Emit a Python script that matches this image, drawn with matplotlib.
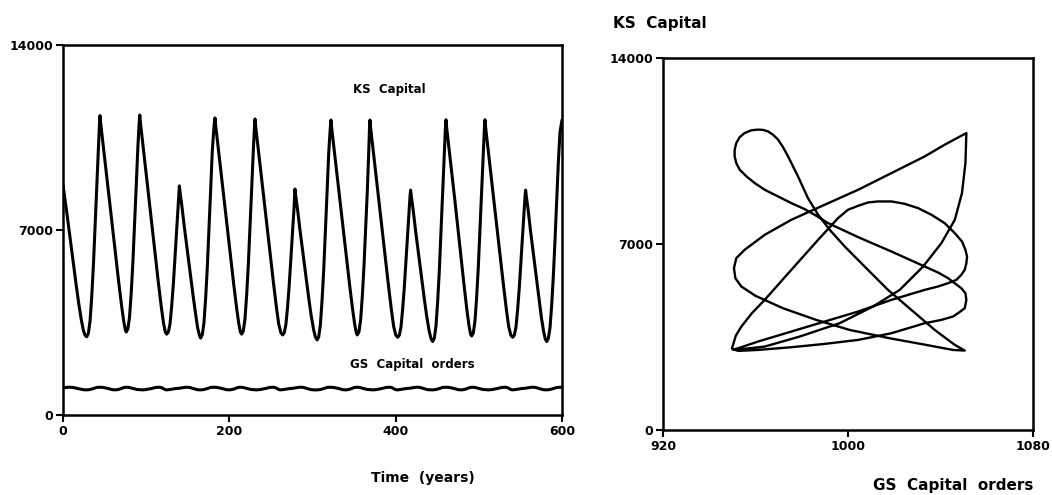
import matplotlib
matplotlib.use("Agg")
import matplotlib.pyplot as plt

# KS capital stock over time (years, value)
years = [
    0, 2, 5, 8.5, 12, 15.5, 19, 22, 24.5, 26.5, 28.5,
    30.5, 32.5, 34.5, 36.5, 38.5, 40.5, 42.5, 43.8, 44.5,
    45.3, 47.5, 51, 55, 59, 63, 67, 70.5, 73, 75, 76,
    78, 80, 82, 84, 86, 88, 90, 91.5, 92.3,
    93.1, 95.3, 98.8, 102.8, 106.8, 110.8, 114.8, 118.3, 120.8, 123, 124.7,
    126.7, 128.7, 130.7, 132.7, 134.7, 136.7, 138.5, 139.4, 139.9,
    140.7, 142.9, 145.9, 149.4, 152.9, 156.4, 159.4, 161.9, 163.9, 165.5,
    167.5, 169.5, 171.5, 173.5, 175.5, 177.5, 179.5, 181.5, 182.8,
    183.6, 185.8, 189.3, 193.3, 197.3, 201.3, 205.3, 208.8, 211.3, 213.3, 214.8,
    216.8, 218.8, 220.8, 222.8, 224.8, 226.8, 228.8, 230.2, 230.9,
    231.7, 233.9, 237.4, 241.4, 245.4, 249.4, 253.4, 256.9, 259.4, 262, 264.1,
    266, 268, 270, 272, 274, 276, 277.8, 278.5, 278.9,
    279.7, 281.9, 284.9, 288.4, 291.9, 295.4, 298.4, 301.4, 303.5, 305.5,
    307.5, 309.5, 311.5, 313.5, 315.5, 317.5, 319.5, 321.3, 322.2,
    323, 325.2, 328.7, 332.7, 336.7, 340.7, 344.7, 348.2, 350.7, 352.7, 353.9,
    355.9, 357.9, 359.9, 361.9, 363.9, 365.9, 367.6, 368.5, 369.1,
    369.9, 372.1, 375.6, 379.6, 383.6, 387.6, 391.6, 395.1, 397.6, 400.2, 402.4,
    404.4, 406.4, 408.4, 410.4, 412.4, 414.4, 416.2, 417.3, 418,
    418.8, 421, 424, 427.5, 431, 434.5, 437.5, 440.3, 442.5, 444.5,
    446.5, 448.5, 450.5, 452.5, 454.5, 456.5, 458.5, 459.8, 460.5,
    461.3, 463.5, 467, 471, 474.8, 478.6, 482.4, 485.7, 488.1, 490, 491.4,
    493.4, 495.4, 497.4, 499.4, 501.4, 503.4, 505.4, 506.7, 507.4,
    508.2, 510.4, 513.9, 517.9, 521.9, 525.9, 529.9, 533.4, 535.9, 538.5, 540.7,
    542.7, 544.7, 546.7, 548.7, 550.7, 552.7, 554.5, 555.6, 556.3,
    557.1, 559.3, 562.2, 565.6, 568.9, 572.3, 575.2, 577.8, 579.8, 581.6,
    583.6, 585.6, 587.6, 589.6, 591.6, 593.6, 595.6, 597.6, 600,
]
ks_capital = [
    8700, 8250, 7550, 6700, 5850, 5000, 4200, 3600, 3200, 3020, 2960,
    3090, 3550, 4470, 5640, 7060, 8570, 10080, 11000, 11330,
    11040, 10430, 9450, 8340, 7240, 6130, 5020, 4120, 3550, 3220, 3140,
    3260, 3710, 4620, 5770, 7160, 8640, 10120, 11020, 11350,
    11060, 10440, 9440, 8330, 7200, 6090, 4970, 4060, 3490, 3140, 3060,
    3140, 3450, 4130, 4970, 5980, 6990, 7940, 8450, 8670,
    8440, 7920, 7110, 6250, 5390, 4520, 3830, 3300, 3030, 2910,
    3040, 3500, 4410, 5580, 6990, 8490, 9990, 10900, 11240,
    10950, 10340, 9360, 8260, 7150, 6050, 4940, 4040, 3470, 3140, 3060,
    3180, 3630, 4530, 5670, 7050, 8510, 9980, 10880, 11200,
    10910, 10300, 9320, 8220, 7120, 6010, 4910, 4010, 3440, 3110, 3030,
    3110, 3420, 4080, 4910, 5900, 6890, 7830, 8330, 8550,
    8320, 7810, 7010, 6150, 5300, 4440, 3760, 3220, 2950, 2840,
    2960, 3420, 4340, 5500, 6920, 8410, 9910, 10830, 11160,
    10880, 10270, 9290, 8190, 7100, 6000, 4900, 4010, 3440, 3110, 3030,
    3150, 3600, 4490, 5630, 7010, 8470, 9930, 10830, 11160,
    10870, 10260, 9270, 8160, 7050, 5940, 4830, 3930, 3350, 3020, 2940,
    3020, 3330, 4000, 4830, 5840, 6840, 7790, 8290, 8510,
    8280, 7770, 6960, 6100, 5240, 4380, 3700, 3180, 2890, 2780,
    2910, 3370, 4290, 5460, 6890, 8400, 9910, 10840, 11170,
    10880, 10270, 9290, 8180, 7080, 5980, 4870, 3970, 3400, 3070, 2990,
    3110, 3560, 4460, 5610, 7000, 8470, 9940, 10840, 11170,
    10880, 10260, 9280, 8170, 7060, 5950, 4840, 3930, 3350, 3020, 2940,
    3020, 3330, 4000, 4830, 5840, 6840, 7790, 8290, 8510,
    8280, 7770, 6960, 6100, 5240, 4380, 3700, 3180, 2890, 2780,
    2900, 3300, 4150, 5250, 6600, 8050, 9550, 10700, 11160,
]

# GS capital orders over time (small ripple around 1000)
gs_years = [
    0, 4, 8, 12, 18, 24.5, 28.5, 32, 36, 40.5, 44.5, 48.5, 54, 59.5, 63.5,
    67, 70, 73, 76, 79.5, 84, 89, 92.3, 94.2, 96, 100, 106, 111.5, 116,
    118.5, 120.5, 122.7, 124.7, 128, 132, 136, 139.9, 144, 148, 152, 157,
    161.5, 165.5,
    169, 173, 177.5, 181.5, 185.5, 191, 196.5, 200.5, 204, 207, 210, 213,
    216.5, 221, 226, 229.3, 231.2, 233, 237, 243, 248.5, 253, 255.5, 257.5,
    259.7, 261.7, 265, 269, 273, 276.9, 281, 285, 289, 294, 298.5, 302.5,
    305.5, 309, 313, 317.5, 321.5, 325.5, 331, 336.5, 340.5, 344, 347, 350,
    353, 356.5, 361, 366, 369.3, 371.2, 373, 377, 383, 388.5, 393, 395.5,
    397.5, 399.7, 401.7, 405, 409, 413, 416.9, 421, 425, 429, 434, 438.5,
    442.5,
    444.5, 448, 452, 456.5, 460.5, 464.5, 470, 475.5, 479.5, 483, 486, 489,
    492, 495.5, 500, 505, 508.3, 510.2, 512, 516, 522, 527.5, 532, 534.5,
    536.5, 538.7, 540.7, 544, 548, 552, 555.9, 560, 564, 568, 573, 577.5,
    581.5, 585, 589, 593.5, 597.5, 600,
]
gs_orders = [
    1020, 1045, 1052, 1044, 1000, 957, 951, 962, 995, 1044, 1051, 1042, 1005, 958, 951,
    970, 1000, 1038, 1051, 1042, 1005, 966, 960, 955, 951, 963, 1000, 1042, 1052,
    1035, 1000, 963, 951, 962, 985, 1004, 1012, 1035, 1052, 1044, 1000,
    958, 951,
    962, 995, 1044, 1051, 1042, 1005, 958, 951, 970, 1000, 1038, 1051,
    1042, 1005, 966, 960, 955, 951, 963, 1000, 1042, 1052, 1035, 1000,
    963, 951, 962, 985, 1004, 1012, 1035, 1052, 1044, 1000, 958, 951,
    951, 962, 995, 1044, 1051, 1042, 1005, 958, 951, 970, 1000, 1038,
    1051, 1042, 1005, 966, 960, 955, 951, 963, 1000, 1042, 1052, 1035,
    1000, 963, 951, 962, 985, 1004, 1012, 1035, 1052, 1044, 1000, 958,
    951,
    951, 962, 995, 1044, 1051, 1042, 1005, 958, 951, 970, 1000, 1038,
    1051, 1042, 1005, 966, 960, 955, 951, 963, 1000, 1042, 1052, 1035,
    1000, 963, 951, 962, 985, 1004, 1012, 1035, 1052, 1044, 1000, 958,
    951, 962, 995, 1038, 1050, 1048,
]

# phase portrait: GS capital orders (x) against KS capital (y)
gs_orbit = [
    951.0, 964.0, 979.1, 996.4, 1010.8, 1022.4, 1032.5, 1040.4, 1046.2, 1049.3, 1050.8, 1051.2,
    1041.8, 1033.2, 1018.8, 1004.4, 989.9, 975.5, 964.0, 955.3,
    951.7, 950.7, 951.3, 953.9, 960.0,
    971.9, 986.3, 1000.7, 1018.0, 1033.9, 1045.4, 1050.5,
    1046.2, 1037.5, 1027.4, 1017.3, 1007.2, 998.6, 992.1, 987.1, 982.7, 978.4, 974.1,
    971.9, 969.8, 967.6, 965.4, 963.3, 961.1, 958.2,
    955.3, 953.2, 951.7, 951.0, 951.0, 951.7, 953.2, 956.1, 959.7, 964.0, 969.8,
    975.5, 981.3, 985.6, 991.4, 1004.4, 1018.8, 1033.2, 1038.9, 1043.3, 1049.0,
    1050.8, 1051.2, 1050.5, 1047.6, 1045.4, 1040.4, 1033.2, 1018.8, 1004.4, 989.9,
    975.5, 961.1, 952.5, 949.8,
    950.3, 951.5, 953.9, 958.5, 964.0, 975.5, 987.1, 995.7, 1000.0, 1004.4, 1008.7,
    1013.0, 1018.8, 1024.5, 1030.3, 1036.1, 1041.8, 1046.2, 1049.3, 1050.8, 1051.5,
    1051.2, 1050.5, 1049.0, 1046.9, 1043.3, 1038.9, 1033.2, 1018.8, 1004.4, 989.9,
    975.5, 961.1, 952.5, 950.3, 951.0,
]
ks_orbit = [
    3014, 3140, 3517, 4019, 4647, 5274, 6153, 7032, 7911, 8916, 10046, 11176,
    10736, 10297, 9669, 9041, 8476, 7911, 7346, 6781,
    6467, 6091, 5714, 5400, 5050,
    4583, 4143, 3767, 3453, 3202, 3013, 2990,
    3203, 3768, 4521, 5274, 6153, 6907, 7535, 8100, 8727, 9544, 10297,
    10648, 10925, 11113, 11238, 11295, 11305, 11280,
    11176, 11025, 10799, 10548, 10297, 10046, 9795, 9544, 9292, 9041, 8790,
    8539, 8313, 8100, 7786, 7258, 6718, 6153, 5930, 5714, 5337,
    5149, 4898, 4584, 4396, 4270, 4144, 4019, 3642, 3391, 3240,
    3115, 3014, 2977, 3060,
    3203, 3550, 3893, 4400, 4898, 6028, 7158, 7974, 8288, 8438, 8564,
    8602, 8602, 8514, 8351, 8100, 7786, 7409, 7095, 6781, 6530,
    6279, 6028, 5840, 5651, 5526, 5400, 5274, 4898, 4458, 4082,
    3705, 3329, 3077, 3030, 3014,
]

FONT = "DejaVu Sans"

fig = plt.figure(figsize=(10.52, 4.95), dpi=100)

ax1 = fig.add_axes([0.0599, 0.1616, 0.4743, 0.7475])
ax1.plot(years, ks_capital, color="black", lw=2.2,
         solid_joinstyle="round", solid_capstyle="round")
ax1.plot(gs_years, gs_orders, color="black", lw=2.2,
         solid_joinstyle="round", solid_capstyle="round")
ax1.set_xlim(0, 600)
ax1.set_ylim(0, 14000)
ax1.set_xticks([0, 200, 400, 600])
ax1.set_yticks([0, 7000, 14000])
ax1.text(392, 12300, "KS  Capital", ha="center", va="center",
         fontsize=8.5, fontweight="bold", family=FONT)
ax1.text(420, 1900, "GS  Capital  orders", ha="center", va="center",
         fontsize=8.5, fontweight="bold", family=FONT)

ax2 = fig.add_axes([0.6302, 0.1313, 0.3517, 0.7515])
ax2.plot(gs_orbit, ks_orbit, color="black", lw=1.7,
         solid_joinstyle="round", solid_capstyle="round")
ax2.set_xlim(920, 1080)
ax2.set_ylim(0, 14000)
ax2.set_xticks([920, 1000, 1080])
ax2.set_yticks([0, 7000, 14000])

for ax in (ax1, ax2):
    for sp in ax.spines.values():
        sp.set_linewidth(1.8)
    ax.tick_params(direction="out", length=5, width=1.5, pad=2, labelsize=9)
    for lab in ax.get_xticklabels() + ax.get_yticklabels():
        lab.set_fontweight("bold")
        lab.set_family(FONT)

fig.text(0.402, 0.034, "Time  (years)", ha="center", va="center",
         fontsize=10, fontweight="bold", family=FONT)
fig.text(0.5827, 0.9535, "KS  Capital", ha="left", va="center",
         fontsize=11, fontweight="bold", family=FONT)
fig.text(0.982, 0.020, "GS  Capital  orders", ha="right", va="center",
         fontsize=11, fontweight="bold", family=FONT)

fig.savefig("out.png", dpi=100, facecolor="white")
